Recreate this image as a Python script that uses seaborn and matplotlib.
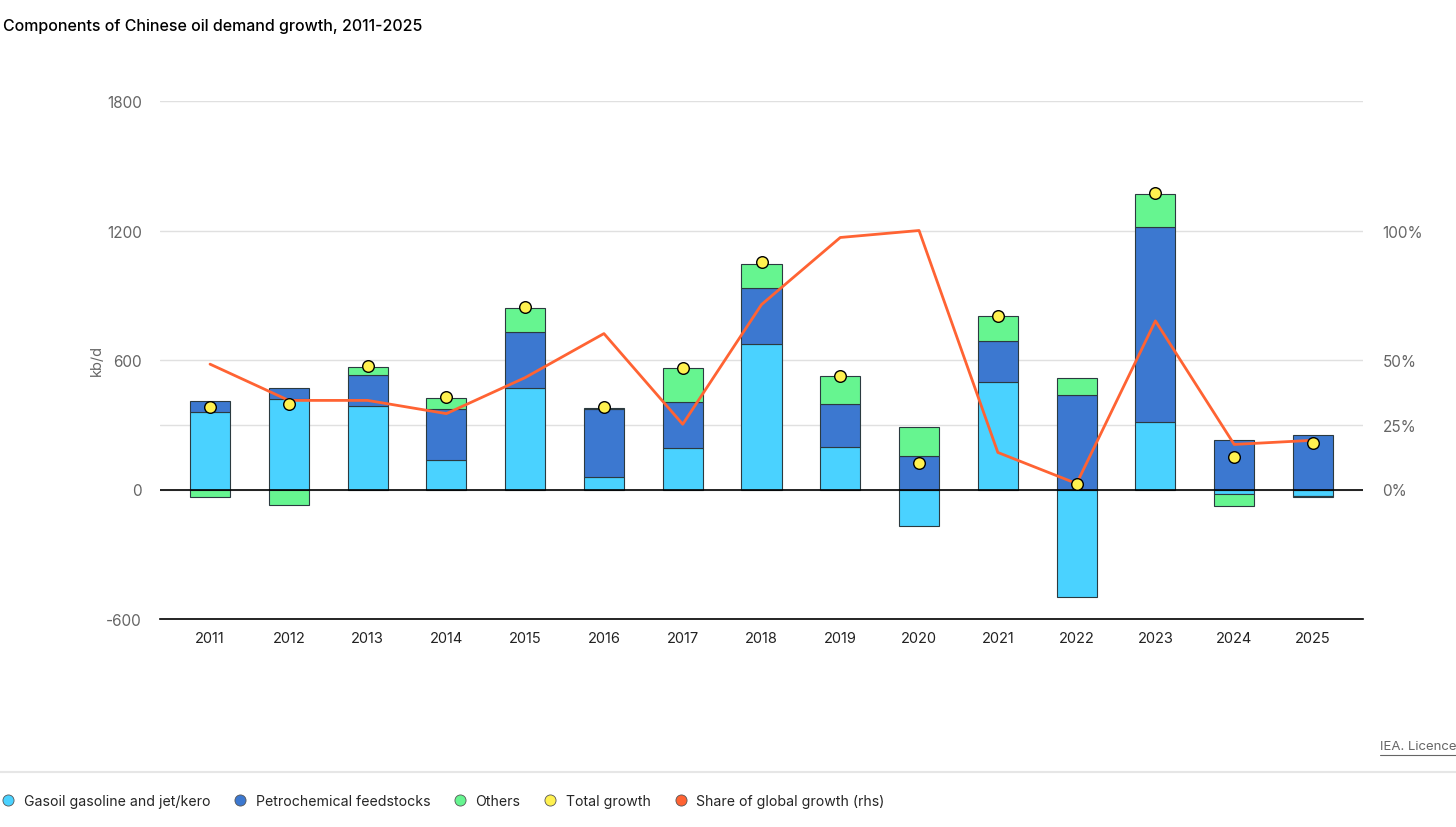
import matplotlib.pyplot as plt
import seaborn as sns
import numpy as np
from matplotlib.lines import Line2D

# Data (kb/d, share in %)
years = [str(y) for y in range(2011, 2026)]
gasoil = [357, 420, 386, 136, 471, 59, 193, 673, 198, -167, 497, -496, 312, -19, -31]
petchem = [52, 49, 144, 236, 260, 312, 212, 261, 196, 154, 192, 436, 905, 228, 252]
others = [-34, -71, 38, 54, 111, 5, 157, 113, 130, 136, 114, 81, 154, -56, -6]
total = [380, 394, 571, 429, 845, 380, 565, 1052, 527, 124, 806, 25, 1375, 150, 216]
share = [48.4, 34.4, 34.4, 29.3, 43.2, 60.2, 25.2, 71.4, 97.3, 100, 14.3, 2.3, 65.1, 17.4, 19.0]

series_names = ["Gasoil gasoline and jet/kero", "Petrochemical feedstocks", "Others"]
colors = ["#4AD2FF", "#3C78D0", "#66F590"]
dot_color = "#FFF150"
line_color = "#FF6333"

sns.set_theme(style="white")
plt.rcParams['font.family'] = ['Inter', 'DejaVu Sans']
plt.rcParams['axes.unicode_minus'] = False

fig = plt.figure(figsize=(14.56, 8.28), dpi=100)
ax = fig.add_axes([160 / 1456, 1 - 620 / 828, 1203 / 1456, 518 / 828])

x = np.arange(len(years))
width = 0.51
pos_bottom = np.zeros(len(years))
neg_bottom = np.zeros(len(years))
for vals, c in zip([gasoil, petchem, others], colors):
    vals = np.array(vals, dtype=float)
    bottom = np.where(vals >= 0, pos_bottom, neg_bottom)
    ax.bar(x, vals, width, bottom=bottom, color=c, edgecolor="#2b3a40", linewidth=0.8, zorder=3)
    pos_bottom += np.clip(vals, 0, None)
    neg_bottom += np.clip(vals, None, 0)

ax.set_xlim(-0.635, 14.635)
ax.set_ylim(-600, 1800)
ax.set_yticks([-600, 0, 600, 1200, 1800])
ax.set_yticks([300], minor=True)  # 25% line of the right axis
ax.set_xticks(x)
ax.set_xticklabels(years)
ax.grid(axis="y", which="both", color="#e0e0e0", linewidth=1, zorder=0)
ax.axhline(0, color="black", linewidth=1.2, zorder=4)
for s in ["top", "right", "left"]:
    ax.spines[s].set_visible(False)
ax.spines["bottom"].set_color("black")
ax.spines["bottom"].set_linewidth(1.2)
ax.tick_params(axis="y", which="both", length=0, pad=13, labelsize=11, labelcolor="#666666")
ax.tick_params(axis="x", length=0, pad=9, labelsize=10.5, labelcolor="#222222")
ax.set_ylabel("kb/d", fontsize=10.5, color="#666666", labelpad=2)

# share of global growth on the right axis
ax2 = ax.twinx()
ax2.set_ylim(-50, 150)
ax2.set_yticks([0, 25, 50, 100])
ax2.set_yticklabels(["0%", "25%", "50%", "100%"])
ax2.grid(False)
for s in ["top", "right", "left", "bottom"]:
    ax2.spines[s].set_visible(False)
ax2.tick_params(axis="y", length=0, pad=14, labelsize=11, labelcolor="#666666")
sns.lineplot(x=x, y=share, ax=ax2, color=line_color, linewidth=2, zorder=5)

# total growth dots on top
ax3 = ax.twinx()
ax3.set_ylim(-600, 1800)
ax3.axis("off")
sns.scatterplot(x=x, y=total, ax=ax3, color=dot_color, edgecolor="black", linewidth=1, s=70, zorder=6)

fig.text(3 / 1456, 1 - 26 / 828, "Components of Chinese oil demand growth, 2011-2025",
         fontsize=11.5, fontweight="medium", color="black", va="center", ha="left")

fig.text(1380 / 1456, 1 - 747 / 828, "IEA. Licence", fontsize=9.5,
         color="#666666", va="center", ha="left")
fig.add_artist(Line2D([1380 / 1456, 1], [1 - 756 / 828] * 2, color="#666666", linewidth=0.8))
fig.add_artist(Line2D([0, 1], [1 - 773 / 828] * 2, color="#e6e6e6", linewidth=1.5))

handles = [Line2D([], [], marker="o", ls="", markersize=8, markerfacecolor=c,
                  markeredgecolor="#555555", markeredgewidth=0.6)
           for c in colors + [dot_color, line_color]]
labels = series_names + ["Total growth", "Share of global growth (rhs)"]
fig.legend(handles, labels, loc="center left", bbox_to_anchor=(-0.008, 1 - 802 / 828), ncol=5,
           frameon=False, fontsize=10.2, handlelength=1.0, handletextpad=0.6, columnspacing=1.6)

fig.savefig("out.png", dpi=100)
